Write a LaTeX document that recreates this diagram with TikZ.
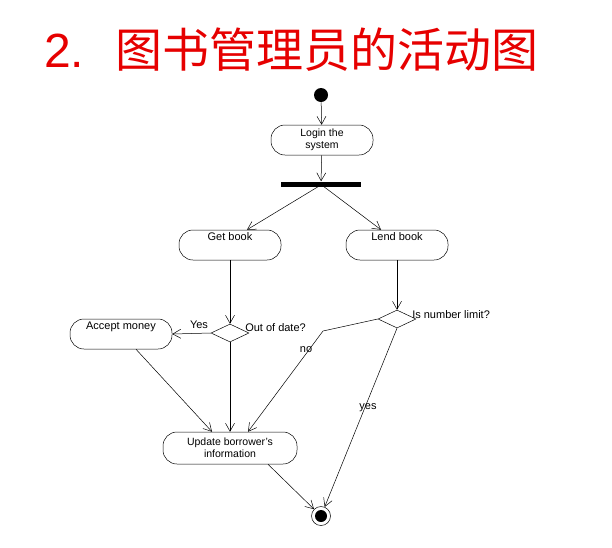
\documentclass[tikz,border=0pt]{standalone}
\usepackage{fontspec}
\setmainfont{Liberation Sans}
\newfontfamily\cjk{Noto Sans CJK SC}
\usetikzlibrary{shapes.geometric,arrows.meta}
\definecolor{titlered}{RGB}{230,0,0}
\begin{document}
\begin{tikzpicture}[x=1pt,y=-1pt,
  every node/.style={font=\fontsize{11}{13}\selectfont},
  act/.style={draw,rounded corners=14pt,minimum width=102pt,minimum height=30pt,inner sep=0pt},
  toptext/.style={anchor=north,yshift=-2pt,inner sep=1pt},
  decision/.style={draw,diamond,minimum width=38pt,minimum height=18pt,inner sep=0pt},
  lbl/.style={inner sep=1pt},
  flow/.style={-{Straight Barb[length=8pt,width=9pt]}},
  line width=0.5pt]
\useasboundingbox (0,0) rectangle (612,547);
% title
\node[anchor=west,inner sep=0pt,text=titlered,font=\fontsize{48}{56}\selectfont] (title) at (44,50) {2.\hspace{31pt}{\cjk\fontsize{47}{56}\selectfont 图书管理员的活动图}};
% start
\node[circle,fill=black,minimum size=14pt,inner sep=0pt] (start) at (321,95) {};
\node[act,align=center,font=\fontsize{10.5}{12}\selectfont] (login) at (322,140) {Login the\\system};
\node[fill=black,minimum width=80pt,minimum height=5pt,inner sep=0pt] (fork) at (321,184) {};
\node[act,label={[toptext]north:Get book}] (get) at (230,245) {};
\node[act,label={[toptext]north:Lend book}] (lend) at (397,245) {};
\node[decision] (ood) at (230,333) {};
\node[lbl,anchor=west] (oodl) at (244,328) {Out of date?};
\node[lbl] (yes1) at (199,325) {Yes};
\node[act,label={[toptext]north:Accept money}] (acc) at (121,334) {};
\node[decision] (lim) at (397,319) {};
\node[lbl,anchor=west] (liml) at (411,315) {Is number limit?};
\node[act,minimum width=134pt,minimum height=32pt,align=center,font=\fontsize{10.5}{12}\selectfont] (upd) at (230,448) {Update borrower's\\information};
\node[circle,draw,minimum size=19pt,inner sep=0pt] (end) at (321,516) {};
\node[circle,fill=black,minimum size=12pt,inner sep=0pt] (endin) at (321,516) {};
\coordinate (bend) at (323,331);
\node[lbl] (no) at (306,350) {no};
\node[lbl] (yes2) at (368,408) {yes};
% connectors
\draw[flow] (start) -- (login);
\draw[flow] (login) -- (fork);
\draw[flow] ([xshift=-3pt]fork.south) -- ([xshift=17pt]get.north);
\draw[flow] ([xshift=3pt]fork.south) -- ([xshift=-16pt]lend.north);
\draw[flow] (get) -- (ood);
\draw[flow] (ood.west) -- (acc.east);
\draw[flow] (ood.south) -- (upd.north);
\draw[flow] ([xshift=15pt]acc.south) -- ([xshift=-18pt]upd.north);
\draw[flow] (lend) -- (lim);
\draw[flow] (lim.west) -- (bend) -- ([xshift=18pt]upd.north);
\draw[flow] (lim.south) -- (end);
\draw[flow] ([xshift=38pt]upd.south) -- (end);
\end{tikzpicture}
\end{document}
